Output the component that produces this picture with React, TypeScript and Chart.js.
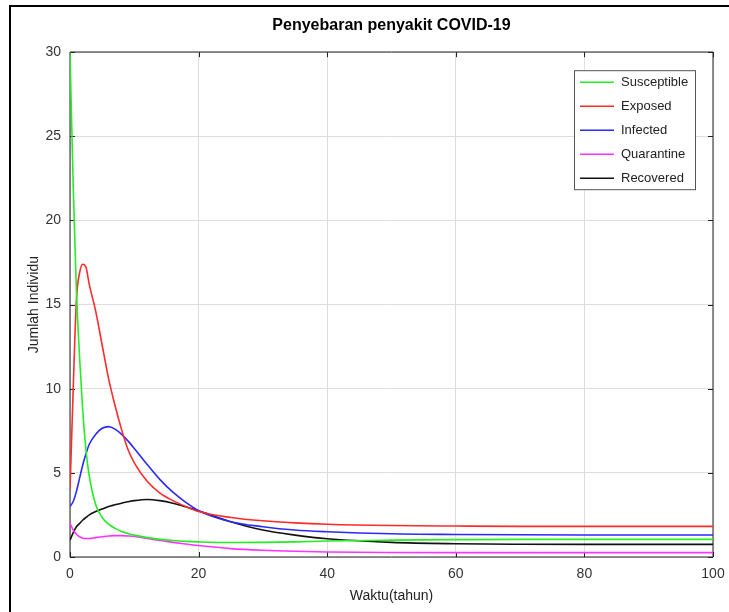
import React, { useEffect, useRef } from "react";
import { Chart, registerables } from "chart.js";

Chart.register(...registerables);

const TITLE = "Penyebaran penyakit COVID-19";
const X_TITLE = "Waktu(tahun)";
const Y_TITLE = "Jumlah Individu";

const time = [0, 0.5, 1, 1.5, 2, 2.5, 3, 4, 5, 6, 7, 8, 9, 10, 12, 14, 16, 18, 20, 25, 30, 35, 40, 50, 60, 70, 80, 90, 100];

const susceptible = [30, 22, 15.8, 11.8, 8.6, 6.3, 4.8, 3.1, 2.35, 1.95, 1.7, 1.52, 1.4, 1.3, 1.15, 1.05, 0.98, 0.93, 0.9, 0.86, 0.87, 0.9, 0.95, 1.0, 1.03, 1.05, 1.05, 1.05, 1.05];
const exposed = [4.0, 10.0, 15.3, 16.9, 17.4, 17.2, 16.2, 14.6, 12.6, 10.6, 9.0, 7.6, 6.4, 5.6, 4.5, 3.8, 3.35, 3.0, 2.7, 2.35, 2.15, 2.03, 1.95, 1.87, 1.84, 1.82, 1.82, 1.82, 1.82];
const infected = [3.0, 3.3, 3.9, 4.7, 5.5, 6.15, 6.7, 7.3, 7.65, 7.75, 7.6, 7.3, 6.9, 6.45, 5.5, 4.6, 3.85, 3.25, 2.75, 2.1, 1.8, 1.6, 1.5, 1.38, 1.34, 1.32, 1.31, 1.31, 1.31];
const quarantine = [2.0, 1.6, 1.35, 1.2, 1.12, 1.1, 1.1, 1.15, 1.2, 1.25, 1.27, 1.27, 1.25, 1.22, 1.1, 0.98, 0.87, 0.77, 0.68, 0.5, 0.4, 0.34, 0.3, 0.27, 0.26, 0.26, 0.26, 0.26, 0.26];
const recovered = [1.0, 1.45, 1.8, 2.0, 2.2, 2.35, 2.5, 2.7, 2.85, 3.0, 3.1, 3.2, 3.28, 3.35, 3.42, 3.35, 3.2, 2.98, 2.75, 2.1, 1.6, 1.3, 1.08, 0.87, 0.79, 0.76, 0.75, 0.75, 0.75];

const seriesNames = ["Susceptible", "Exposed", "Infected", "Quarantine", "Recovered"];
const seriesValues = [susceptible, exposed, infected, quarantine, recovered];
const seriesColors = ["#22ee22", "#ff2a2a", "#2a2aff", "#ff33ff", "#111111"];

const X_MIN = 0, X_MAX = 100, X_STEP = 20;
const Y_MIN = 0, Y_MAX = 30, Y_STEP = 5;

const FONT = "'Liberation Sans', Arial, Helvetica, sans-serif";

const octavePlugin = {
  id: "octaveAxes",
  beforeDatasetsDraw(chart: any) {
    const { ctx, chartArea: a, scales } = chart;
    ctx.save();
    ctx.strokeStyle = "#222";
    ctx.lineWidth = 1;
    ctx.beginPath();
    ctx.rect(Math.round(a.left), Math.round(a.top), Math.round(a.right - a.left), Math.round(a.bottom - a.top));
    ctx.stroke();
    const len = 5;
    ctx.beginPath();
    for (const t of scales.x.ticks) {
      const px = Math.round(scales.x.getPixelForValue(t.value)) + 0.5;
      ctx.moveTo(px, a.bottom);
      ctx.lineTo(px, a.bottom - len);
      ctx.moveTo(px, a.top);
      ctx.lineTo(px, a.top + len);
    }
    for (const t of scales.y.ticks) {
      const py = Math.round(scales.y.getPixelForValue(t.value)) + 0.5;
      ctx.moveTo(a.left, py);
      ctx.lineTo(a.left + len, py);
      ctx.moveTo(a.right, py);
      ctx.lineTo(a.right - len, py);
    }
    ctx.stroke();
    ctx.restore();
  },
  afterDatasetsDraw(chart: any) {
    const { ctx, chartArea: a } = chart;
    const w = 121, h = 119;
    const right = a.right - 18;
    const top = a.top + 18;
    const left = right - w;
    ctx.save();
    ctx.fillStyle = "#fff";
    ctx.fillRect(left, top, w, h);
    ctx.strokeStyle = "#555";
    ctx.lineWidth = 1;
    ctx.strokeRect(left + 0.5, top + 0.5, w, h);
    ctx.font = `13px ${FONT}`;
    ctx.textBaseline = "middle";
    ctx.textAlign = "left";
    chart.data.datasets.forEach((ds: any, i: number) => {
      const y = top + 12 + i * 24;
      ctx.strokeStyle = ds.borderColor;
      ctx.lineWidth = 1.5;
      ctx.beginPath();
      ctx.moveTo(left + 6, y);
      ctx.lineTo(left + 40, y);
      ctx.stroke();
      ctx.fillStyle = "#222";
      ctx.fillText(ds.label, left + 47, y);
    });
    ctx.restore();
  },
};

export default function App() {
  const ref = useRef<HTMLCanvasElement | null>(null);

  useEffect(() => {
    if (!ref.current) return;
    Chart.defaults.font.family = FONT;
    const chart = new Chart(ref.current, {
      type: "line",
      data: {
        datasets: seriesNames.map((name, i) => ({
          label: name,
          data: time.map((t, j) => ({ x: t, y: seriesValues[i][j] })),
          borderColor: seriesColors[i],
          backgroundColor: seriesColors[i],
          borderWidth: 1.6,
          pointRadius: 0,
          fill: false,
          cubicInterpolationMode: "monotone" as const,
        })),
      },
      options: {
        responsive: false,
        animation: false,
        events: [],
        layout: { padding: { left: 0, right: 16, top: 0, bottom: 0 } },
        plugins: {
          legend: { display: false },
          tooltip: { enabled: false },
          title: {
            display: true,
            text: TITLE,
            color: "#000",
            fullSize: false,
            font: { size: 16, weight: "bold", family: FONT },
            padding: { top: 16, bottom: 17 },
          },
        },
        scales: {
          x: {
            type: "linear",
            min: X_MIN,
            max: X_MAX,
            ticks: { stepSize: X_STEP, color: "#333", font: { size: 14, family: FONT }, padding: 9, maxRotation: 0 },
            grid: { color: "#dedede", lineWidth: 1, drawTicks: false },
            border: { display: false },
            title: { display: true, text: X_TITLE, color: "#222", font: { size: 14, family: FONT }, padding: { top: 0, bottom: 7 } },
            afterFit: (s: any) => { s.height = 55; s.paddingLeft = 0; s.paddingRight = 0; },
          },
          y: {
            type: "linear",
            min: Y_MIN,
            max: Y_MAX,
            ticks: { stepSize: Y_STEP, color: "#333", font: { size: 14, family: FONT }, padding: 9 },
            grid: { color: "#dedede", lineWidth: 1, drawTicks: false },
            border: { display: false },
            title: { display: true, text: Y_TITLE, color: "#222", font: { size: 14, family: FONT }, padding: { top: 26, bottom: 0 } },
            afterFit: (s: any) => { s.width = 70; s.paddingTop = 0; s.paddingBottom = 0; },
          },
        },
      },
      plugins: [octavePlugin],
    });
    return () => chart.destroy();
  }, []);

  return (
    <div style={{ position: "fixed", left: 0, top: 0, width: 729, height: 612, overflow: "hidden", background: "#fff" }}>
      <div style={{ position: "absolute", left: 9, top: 5, width: 760, height: 660, borderLeft: "2px solid #000", borderTop: "2px solid #000" }} />
      <canvas ref={ref} width={729} height={612} style={{ position: "absolute", left: 0, top: 0 }} />
    </div>
  );
}
